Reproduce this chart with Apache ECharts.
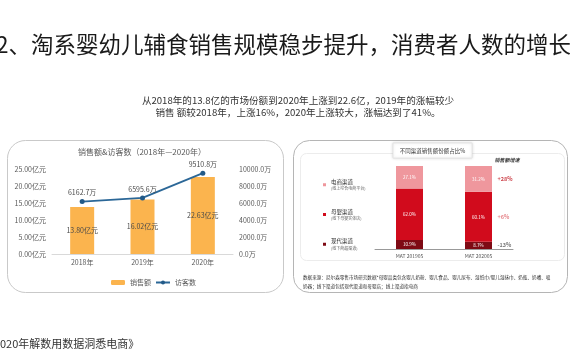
<!DOCTYPE html>
<html><head><meta charset="utf-8">
<script src="https://cdn.jsdelivr.net/npm/echarts@6/dist/echarts.min.js"></script>
<style>html,body{margin:0;padding:0;background:#fff}#c{width:570px;height:360px}</style>
</head><body><div id="c"></div>
<script>
// ---- data ----
const years = ['2018年', '2019年', '2020年'];
const sales = [13.80, 16.02, 22.63];          // 亿元
const visitors = [6162.7, 6595.6, 9510.8];    // 万
const periods = ['MAT 201905', 'MAT 202005'];
const ecommerce = [27.1, 31.2];
const maternal = [62.0, 60.1];
const modern = [10.9, 8.7];
const growth = ['+28%', '+6%', '-13%'];       // 电商, 母婴, 现代
const channelNames = ['电商渠道', '母婴渠道', '现代渠道'];
const channelSubs = ['(线上综合电商平台)', '(线下母婴实体店)', '(线下商超渠道)'];

// ---- style ----
const FONT = '"Noto Sans CJK SC", "Noto Sans", sans-serif';
const growthColors = ['#C0151F', '#E0686E', '#555555'];
const chColors = ['#EF979D', '#D10B1C', '#7E0A14'];

const chart = echarts.init(document.getElementById('c'), null, {renderer: 'canvas'});

const lastIdx = periods.length - 1;
const growthPoints = [
  {value: [periods[lastIdx], modern[lastIdx] + maternal[lastIdx] + ecommerce[lastIdx] / 2], g: growth[0], c: growthColors[0]},
  {value: [periods[lastIdx], modern[lastIdx] + maternal[lastIdx] / 2], g: growth[1], c: growthColors[1]},
  {value: [periods[lastIdx], modern[lastIdx] / 2], g: growth[2], c: growthColors[2]}
].map(p => ({value: p.value, label: {formatter: p.g, color: p.c}}));

const subMap = {};
channelNames.forEach((n, i) => subMap[n] = channelSubs[i]);

const option = {
  backgroundColor: '#fff',
  animation: false,
  textStyle: {fontFamily: FONT},
  grid: [
    {left: 52, width: 181, top: 169, height: 85},
    {left: 375, width: 138, top: 166, height: 83}
  ],
  legend: [
    {
      data: ['销售额', '访客数'], left: 106, top: 274,
      itemWidth: 14, itemHeight: 5, itemGap: 4,
      textStyle: {fontSize: 7, color: '#595959', fontFamily: FONT}
    },
    {
      data: channelNames, orient: 'vertical', left: 318, top: 174,
      itemWidth: 3, itemHeight: 3, itemGap: 18, icon: 'rect', align: 'left',
      formatter: n => '{a|' + n + '}\n{b|' + subMap[n] + '}',
      textStyle: {
        fontFamily: FONT,
        rich: {
          a: {fontSize: 5.5, color: '#333', lineHeight: 8, fontFamily: FONT},
          b: {fontSize: 4, color: '#666', lineHeight: 6, fontFamily: FONT}
        }
      }
    }
  ],
  xAxis: [
    {
      type: 'category', gridIndex: 0, data: years,
      axisLine: {lineStyle: {color: '#d9d9d9'}}, axisTick: {show: false},
      axisLabel: {fontSize: 7, color: '#595959', margin: 5, fontFamily: FONT}
    },
    {
      type: 'category', gridIndex: 1, data: periods,
      axisLine: {lineStyle: {color: '#999'}}, axisTick: {show: false},
      axisLabel: {fontSize: 5, color: '#555', margin: 5, fontFamily: FONT}
    }
  ],
  yAxis: [
    {
      type: 'value', gridIndex: 0, min: 0, max: 25, interval: 5,
      splitLine: {show: false}, axisLine: {show: false}, axisTick: {show: false},
      axisLabel: {fontSize: 7, color: '#595959', margin: 6, fontFamily: FONT,
        formatter: v => v.toFixed(2) + '亿元'}
    },
    {
      type: 'value', gridIndex: 0, position: 'right', min: 0, max: 10000, interval: 2000,
      splitLine: {show: false}, axisLine: {show: false}, axisTick: {show: false},
      axisLabel: {fontSize: 7, color: '#595959', margin: 6, fontFamily: FONT,
        formatter: v => v.toFixed(1) + '万'}
    },
    {
      type: 'value', gridIndex: 1, min: 0, max: 100, show: false
    }
  ],
  series: [
    {
      name: '销售额', type: 'bar', xAxisIndex: 0, yAxisIndex: 0, data: sales,
      barWidth: 24, itemStyle: {color: '#FBB44E'},
      label: {show: true, position: 'inside', fontSize: 7, color: '#4a4a4a', fontFamily: FONT,
        formatter: p => p.value.toFixed(2) + '亿元'}
    },
    {
      name: '访客数', type: 'line', xAxisIndex: 0, yAxisIndex: 1, data: visitors,
      symbol: 'circle', symbolSize: 5, z: 5,
      lineStyle: {color: '#2B6797', width: 1.8}, itemStyle: {color: '#225A88'},
      label: {show: true, position: 'top', distance: 3, fontSize: 7, color: '#4a4a4a', fontFamily: FONT,
        formatter: p => p.value.toFixed(1) + '万'}
    },
    {
      name: channelNames[2], type: 'bar', stack: 'ch', xAxisIndex: 1, yAxisIndex: 2, data: modern,
      barWidth: 27, itemStyle: {color: chColors[2]},
      label: {show: true, position: 'inside', fontSize: 4.5, color: '#fff', formatter: p => p.value.toFixed(1) + '%'}
    },
    {
      name: channelNames[1], type: 'bar', stack: 'ch', xAxisIndex: 1, yAxisIndex: 2, data: maternal,
      barWidth: 27, itemStyle: {color: chColors[1]},
      label: {show: true, position: 'inside', fontSize: 4.5, color: '#fff', formatter: p => p.value.toFixed(1) + '%'}
    },
    {
      name: channelNames[0], type: 'bar', stack: 'ch', xAxisIndex: 1, yAxisIndex: 2, data: ecommerce,
      barWidth: 27, itemStyle: {color: chColors[0]},
      label: {show: true, position: 'inside', fontSize: 4.5, color: '#fff', formatter: p => p.value.toFixed(1) + '%'}
    },
    {
      name: '增速', type: 'scatter', xAxisIndex: 1, yAxisIndex: 2, data: growthPoints,
      symbolSize: 0, silent: true,
      label: {show: true, position: 'right', distance: 19, fontSize: 5.5, fontWeight: 'bold', fontFamily: FONT}
    }
  ],
  graphic: [
    {type: 'text', left: -4, top: 33, style: {text: '2、淘系婴幼儿辅食销售规模稳步提升，消费者人数的增长',
      font: '22.5px ' + FONT, fill: '#1a1a1a'}},
    {type: 'text', x: 298, y: 100, style: {text: '从2018年的13.8亿的市场份额到2020年上涨到22.6亿，2019年的涨幅较少',
      font: '9.6px ' + FONT, fill: '#333', align: 'center', verticalAlign: 'middle'}},
    {type: 'text', x: 298, y: 112, style: {text: '销售 额较2018年，上涨16%，2020年上涨较大，涨幅达到了41%。',
      font: '9.6px ' + FONT, fill: '#333', align: 'center', verticalAlign: 'middle'}},
    // left panel
    {type: 'rect', z: -1, shape: {x: 7.5, y: 140.5, width: 276, height: 152, r: 18},
      style: {fill: '#fff', stroke: '#c9c9c9', lineWidth: 1}},
    {type: 'text', x: 142, y: 152, style: {text: '销售额&访客数（2018年—2020年）',
      font: '8px ' + FONT, fill: '#595959', align: 'center', verticalAlign: 'middle'}},
    // right panel
    {type: 'rect', z: -1, shape: {x: 293.5, y: 140.5, width: 274, height: 152, r: 16},
      style: {fill: '#fff', stroke: '#b5b5b5', lineWidth: 1}},
    {type: 'rect', z: -1, shape: {x: 300.5, y: 153.5, width: 264, height: 107, r: 6},
      style: {fill: '#fff', stroke: '#ececec', lineWidth: 1}},
    {type: 'rect', shape: {x: 393, y: 143, width: 79, height: 15},
      style: {fill: '#fff', stroke: '#e2e2e2', lineWidth: 0.8, shadowBlur: 3, shadowColor: 'rgba(0,0,0,0.15)'}},
    {type: 'text', x: 432.5, y: 150.5, style: {text: '不同渠道销售额份额占比%',
      font: '5.5px ' + FONT, fill: '#333', align: 'center', verticalAlign: 'middle'}},
    {type: 'text', x: 507, y: 160, style: {text: '销售额增速',
      font: 'italic bold 5px ' + FONT, fill: '#333', align: 'center', verticalAlign: 'middle'}},
    {type: 'text', x: 303, y: 277, style: {text: '数据来源：尼尔森零售市场研究数据*母婴品类包含婴儿奶粉、婴儿食品、婴儿尿布、湿纸巾/婴儿湿抹巾、奶瓶、奶嘴、吸',
      font: '4.6px ' + FONT, fill: '#333', verticalAlign: 'middle'}},
    {type: 'text', x: 303, y: 286, style: {text: '奶器；线下渠道包括现代渠道和母婴店；线上渠道指电商',
      font: '4.6px ' + FONT, fill: '#333', verticalAlign: 'middle'}},
    // footer
    {type: 'text', x: 0, y: 344, style: {text: '020年解数用数据洞悉电商》',
      font: '11px ' + FONT, fill: '#333', verticalAlign: 'middle'}}
  ]
};
chart.setOption(option);
</script>
</body></html>
